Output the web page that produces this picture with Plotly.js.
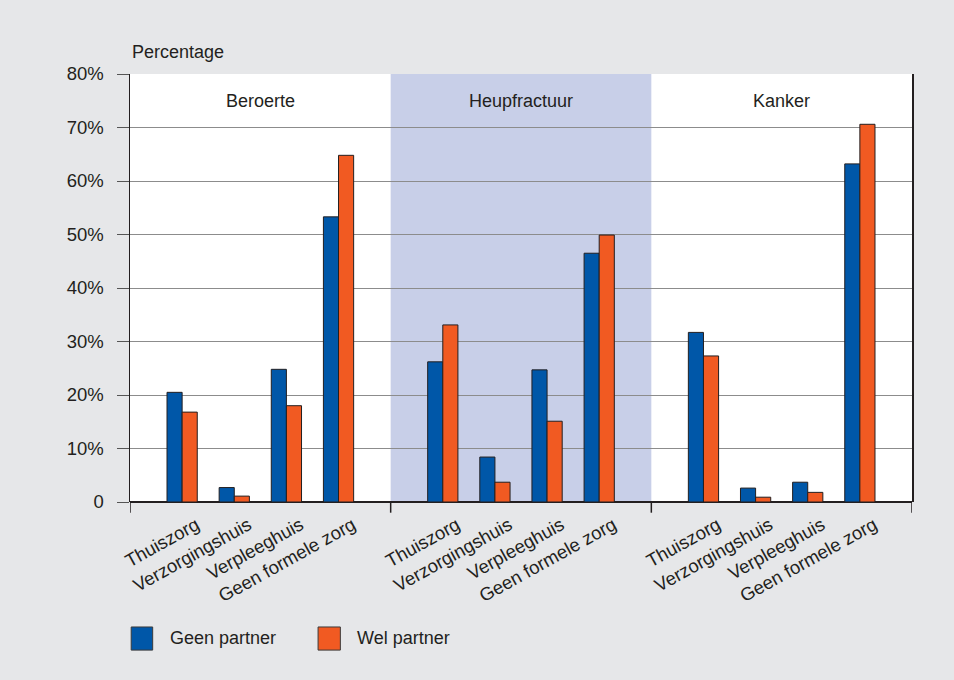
<!DOCTYPE html>
<html><head><meta charset="utf-8">
<script src="https://cdn.plot.ly/plotly-3.0.1.min.js"></script>
<style>html,body{margin:0;padding:0;background:#e6e7e9;}#chart{width:954px;height:680px;}</style>
</head><body><div id="chart"></div>
<script>
const groups = ["Beroerte", "Heupfractuur", "Kanker"];
const categories = ["Thuiszorg", "Verzorgingshuis", "Verpleeghuis", "Geen formele zorg"];
const seriesNames = ["Geen partner", "Wel partner"];
const geenPartner = [20.5, 2.7, 24.8, 53.3,  26.2, 8.4, 24.7, 46.5,  31.7, 2.6, 3.7, 63.2];
const welPartner  = [16.8, 1.1, 18.0, 64.8,  33.1, 3.7, 15.1, 49.9,  27.3, 0.9, 1.8, 70.6];
const yTickVals = [0, 10, 20, 30, 40, 50, 60, 70, 80];
const yTickText = ["0", "10%", "20%", "30%", "40%", "50%", "60%", "70%", "80%"];

// positions: each group spans 5 units, categories at 1..4 within the group
const xpos = [];
const labels = [];
groups.forEach((g, gi) => categories.forEach((c, ci) => { xpos.push(gi * 5 + ci + 1); labels.push(c); }));
const labelPos = xpos.map(v => v + 0.27);

const colors = ["#0057a8", "#f15a22"];
const font = "Liberation Sans, Arial, sans-serif";
const txt = "#231f20";

const traces = [geenPartner, welPartner].map((vals, i) => ({
  type: "bar", x: xpos, y: vals, name: seriesNames[i],
  marker: { color: colors[i], line: { color: "#231f20", width: 1 } },
  showlegend: false, hoverinfo: "x+y"
}));

const shapes = [
  { type: "rect", xref: "x", yref: "paper", x0: 5, x1: 10, y0: 0, y1: 1, fillcolor: "#c8cfe8", line: { width: 0 }, layer: "below" }
];
[0, 5, 10, 15].forEach(v => shapes.push({ type: "line", xref: "x", yref: "paper", x0: v, x1: v, y0: 0, y1: -0.025, line: { color: "#231f20", width: 1.5 } }));

// legend drawn manually
const legX = [[0.0, 0.029, 0.0486], [0.239, 0.269, 0.288]];
seriesNames.forEach((n, i) => {
  shapes.push({ type: "rect", xref: "paper", yref: "paper", x0: legX[i][0] + 0.0015, x1: legX[i][1], y0: -0.292, y1: -0.346, fillcolor: colors[i], line: { color: "#3a3a3a", width: 1 } });
});

const annotations = groups.map((g, gi) => ({
  text: g, xref: "x", yref: "paper", x: gi * 5 + 2.5, y: 0.966, showarrow: false,
  font: { family: font, size: 18, color: txt }
}));
annotations.push({ text: "Percentage", xref: "paper", yref: "paper", x: 0, y: 1.051, xanchor: "left", yanchor: "middle", showarrow: false, font: { family: font, size: 18, color: txt } });
seriesNames.forEach((n, i) => annotations.push({ text: n, xref: "paper", yref: "paper", x: legX[i][2], y: -0.318, xanchor: "left", yanchor: "middle", showarrow: false, font: { family: font, size: 18, color: txt } }));

const layout = {
  width: 954, height: 680,
  margin: { l: 130, r: 42, t: 74, b: 178 },
  paper_bgcolor: "#e6e7e9", plot_bgcolor: "#ffffff",
  barmode: "group", bargap: 0.42, bargroupgap: 0,
  font: { family: font, size: 18, color: txt },
  xaxis: {
    range: [0, 15], tickmode: "array", tickvals: labelPos, ticktext: labels, tickangle: -29,
    ticks: "", showgrid: false, zeroline: false, showline: false, ticklabelstandoff: 8,
    tickfont: { family: font, size: 18.5, color: txt }, fixedrange: true
  },
  yaxis: {
    range: [0, 80], tickmode: "array", tickvals: yTickVals, ticktext: yTickText,
    ticks: "outside", ticklen: 12, tickcolor: "#555555", tickwidth: 1,
    showgrid: true, gridcolor: "#8c8c8c", gridwidth: 1,
    showline: true, linecolor: "#231f20", linewidth: 1.5, mirror: true,
    zeroline: true, zerolinecolor: "#231f20", zerolinewidth: 1.5,
    ticklabelstandoff: 9, tickfont: { family: font, size: 18.5, color: txt }, fixedrange: true
  },
  shapes: shapes, annotations: annotations
};
Plotly.newPlot("chart", traces, layout, { displayModeBar: false, staticPlot: true });
</script></body></html>
